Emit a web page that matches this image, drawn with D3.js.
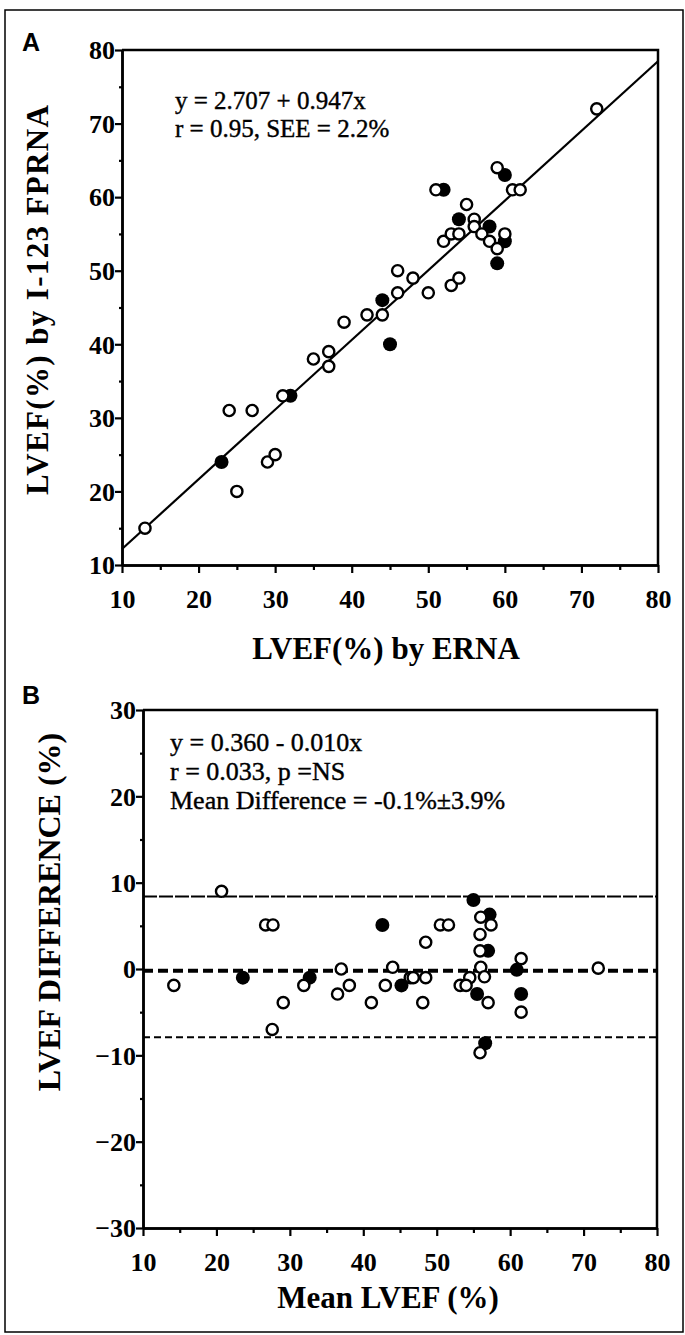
<!DOCTYPE html>
<html>
<head>
<meta charset="utf-8">
<script src="https://cdn.jsdelivr.net/npm/d3@7"></script>
<style>
  body { margin: 0; background: #fff; }
  text { font-family: "Liberation Serif", "Times New Roman", serif; fill: #000; }
</style>
</head>
<body>
<div id="chart"></div>
<script>
const width = 685;
const height = 1335;

// Panel A: LVEF by ERNA (x) vs by I-123 FPRNA (y)
const aOpen = [
  [13,15],[25,20],[24,31],[27,31],[29,24],[30,25],[31,33],[35,38],[37,39],[37,37],
  [39,43],[42,44],[44,44],[46,47],[46,50],[48,49],[50,47],[53,48],[54,49],[52,54],
  [53,55],[54,55],[51,61],[55,59],[56,57],[56,56],[57,55],[58,54],[59,53],[60,55],
  [59,64],[61,61],[62,61],[72,72]
];
const aFilled = [
  [23,24],[32,33],[44,46],[45,40],[52,61],[54,57],[58,56],[60,54],[59,51],[60,63]
];
const aFit = { intercept: 2.707, slope: 0.947 };
const aText = ["y = 2.707 + 0.947x", "r = 0.95, SEE = 2.2%"];

// Panel B: mean LVEF (x) vs difference (y)
const bOpen = [
  [20.7,9],[26.7,5.1],[27.7,5.1],[14.2,-1.9],[29.1,-3.9],[31.9,-1.9],[27.6,-7],[37,0],
  [38.1,-1.9],[36.5,-2.9],[41.1,-3.9],[43,-1.9],[44,0.2],[46.4,-1],[46.8,-1],[48.5,-1],
  [48.1,-3.9],[48.5,3.1],[50.5,5.1],[51.6,5.1],[56,6],[57.4,5.1],[55.9,4],[55.9,2.1],
  [56,0.2],[56.5,-0.9],[54.5,-1],[53.2,-1.9],[54,-1.9],[57,-3.9],[55.9,-9.7],[61.5,1.2],
  [61.5,-5],[72,0.1]
];
const bFilled = [
  [42.6,5.1],[23.6,-1],[32.7,-1],[45.2,-1.9],[55,8],[57.2,6.3],[57,2.1],[55.5,-2.9],
  [56.6,-8.6],[60.9,-0.1],[61.5,-2.9]
];
const bLines = [8.4, -0.2, -7.9];   // +2SD, mean, -2SD
const bText = ["y = 0.360 - 0.010x", "r = 0.033, p =NS", "Mean Difference = -0.1%\u00B13.9%"];

const xTicks = [10,20,30,40,50,60,70,80];
const xMinor = [15,25,35,45,55,65,75];
const aYTicks = [10,20,30,40,50,60,70,80];
const aYMinor = [15,25,35,45,55,65,75];
const bYTicks = [-30,-20,-10,0,10,20,30];
const bYMinor = [-25,-15,-5,5,15,25];

const svg = d3.select("#chart").append("svg")
  .attr("width", width)
  .attr("height", height);

// outer frame
svg.append("rect")
  .attr("x", 5).attr("y", 10)
  .attr("width", 678).attr("height", 1322)
  .attr("fill", "none").attr("stroke", "#000").attr("stroke-width", 1.5);

function drawAxes(g, x, y, yTicks, yMinor) {
  const [x0, x1] = x.range();
  const [y0, y1] = y.range();
  // minor ticks
  g.append("g").attr("transform", `translate(0,${y0})`)
    .call(d3.axisBottom(x).tickValues(xMinor).tickSize(5).tickSizeOuter(0).tickFormat(""));
  g.append("g").attr("transform", `translate(${x0},0)`)
    .call(d3.axisLeft(y).tickValues(yMinor).tickSize(3).tickSizeOuter(0).tickFormat(""));
  // major ticks
  const xa = g.append("g").attr("transform", `translate(0,${y0})`)
    .call(d3.axisBottom(x).tickValues(xTicks).tickSize(8).tickSizeOuter(0));
  const ya = g.append("g").attr("transform", `translate(${x0},0)`)
    .call(d3.axisLeft(y).tickValues(yTicks).tickSize(7).tickSizeOuter(0));
  g.selectAll(".domain").attr("stroke-width", 2.5);
  g.selectAll(".tick line").attr("stroke-width", 2.2);
  xa.selectAll("text").attr("dy", 0).attr("y", 43);
  ya.selectAll("text").attr("x", -7).attr("dy", "0.34em");
  g.selectAll(".tick text")
    .style("font-family", '"Liberation Serif", serif')
    .style("font-size", "26px").style("font-weight", "bold");
  // box top and right
  g.append("path")
    .attr("d", `M${x0},${y1}H${x1}V${y0}`)
    .attr("fill", "none").attr("stroke", "#000").attr("stroke-width", 2.5);
}

function drawPoints(g, x, y, filled, open) {
  g.selectAll(null).data(filled).enter().append("circle")
    .attr("cx", d => x(d[0])).attr("cy", d => y(d[1]))
    .attr("r", 7).attr("fill", "#000");
  g.selectAll(null).data(open).enter().append("circle")
    .attr("cx", d => x(d[0])).attr("cy", d => y(d[1]))
    .attr("r", 5.6).attr("fill", "#fff")
    .attr("stroke", "#000").attr("stroke-width", 2.4);
}

// ---------- Panel A ----------
const xA = d3.scaleLinear().domain([10, 80]).range([122, 658]);
const yA = d3.scaleLinear().domain([10, 80]).range([565, 50]);
const gA = svg.append("g");

gA.append("line")
  .attr("x1", xA(10)).attr("y1", yA(aFit.intercept + aFit.slope * 10))
  .attr("x2", xA(80)).attr("y2", yA(aFit.intercept + aFit.slope * 80))
  .attr("stroke", "#000").attr("stroke-width", 2.2);

drawAxes(gA, xA, yA, aYTicks, aYMinor);
drawPoints(gA, xA, yA, aFilled, aOpen);

gA.selectAll(null).data(aText).enter().append("text")
  .attr("x", 175).attr("y", (d, i) => 109 + i * 28)
  .style("font-size", "25px")
  .attr("stroke", "#000").attr("stroke-width", 0.4)
  .text(d => d);

gA.append("text")
  .attr("x", 386).attr("y", 659)
  .attr("text-anchor", "middle")
  .style("font-size", "31px").style("font-weight", "bold")
  .text("LVEF(%) by ERNA");

gA.append("text")
  .attr("transform", "translate(48,300) rotate(-90)")
  .attr("text-anchor", "middle")
  .attr("textLength", 390).attr("lengthAdjust", "spacing")
  .style("font-size", "31px").style("font-weight", "bold")
  .text("LVEF(%) by I-123 FPRNA");

svg.append("text")
  .attr("x", 22).attr("y", 51)
  .style("font-family", '"Liberation Sans", Arial, sans-serif')
  .style("font-size", "25px").style("font-weight", "bold")
  .text("A");

// ---------- Panel B ----------
const xB = d3.scaleLinear().domain([10, 80]).range([143, 657]);
const yB = d3.scaleLinear().domain([-30, 30]).range([1228, 710]);
const gB = svg.append("g");

const lineStyles = [
  { w: 1.8, dash: "14,2" },
  { w: 4, dash: "10,5" },
  { w: 2, dash: "7,4" }
];
gB.selectAll(null).data(bLines).enter().append("line")
  .attr("x1", xB(10)).attr("x2", xB(80))
  .attr("y1", d => yB(d)).attr("y2", d => yB(d))
  .attr("stroke", "#000")
  .attr("stroke-width", (d, i) => lineStyles[i].w)
  .attr("stroke-dasharray", (d, i) => lineStyles[i].dash);

drawAxes(gB, xB, yB, bYTicks, bYMinor);
drawPoints(gB, xB, yB, bFilled, bOpen);

gB.selectAll(null).data(bText).enter().append("text")
  .attr("x", 170).attr("y", (d, i) => 751 + i * 29)
  .style("font-size", "26px")
  .attr("stroke", "#000").attr("stroke-width", 0.4)
  .text(d => d);

gB.append("text")
  .attr("x", 388).attr("y", 1308)
  .attr("text-anchor", "middle")
  .style("font-size", "31px").style("font-weight", "bold")
  .text("Mean LVEF (%)");

gB.append("text")
  .attr("transform", "translate(60,912) rotate(-90)")
  .attr("text-anchor", "middle")
  .style("font-size", "32px").style("font-weight", "bold")
  .text("LVEF DIFFERENCE (%)");

svg.append("text")
  .attr("x", 22).attr("y", 704)
  .style("font-family", '"Liberation Sans", Arial, sans-serif')
  .style("font-size", "25px").style("font-weight", "bold")
  .text("B");
</script>
</body>
</html>
